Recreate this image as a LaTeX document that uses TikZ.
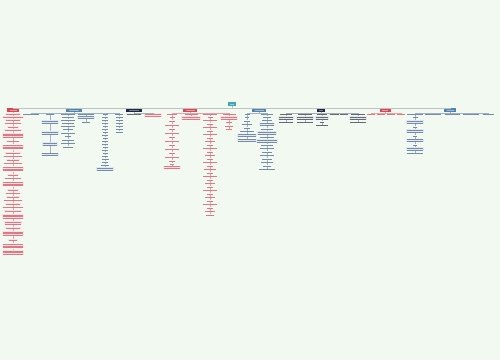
\documentclass[tikz,border=0pt]{standalone}
\definecolor{bgc}{RGB}{241,249,240}
\definecolor{rootc}{RGB}{62,168,175}
\definecolor{mred}{RGB}{214,72,84}
\definecolor{mblue}{RGB}{82,132,172}
\definecolor{mdark}{RGB}{28,40,64}
\definecolor{redtx}{RGB}{222,120,130}
\definecolor{bluetx}{RGB}{120,138,165}
\definecolor{darktx}{RGB}{100,106,116}
\definecolor{pinkfill}{RGB}{251,224,230}
\definecolor{bluefill}{RGB}{224,232,242}
\definecolor{greyfill}{RGB}{228,232,234}
\definecolor{redln}{RGB}{236,160,170}
\definecolor{blueln}{RGB}{160,178,198}
\definecolor{greyln}{RGB}{168,175,180}
\tikzset{
 base/.style={inner xsep=0.7pt, inner ysep=0.55pt, align=center, font=\fontsize{2}{1.6}\selectfont},
 rtx/.style={base, text=redtx},
 btx/.style={base, text=bluetx},
 dtx/.style={base, text=darktx},
 pkbox/.style={fill=pinkfill},
 blbox/.style={fill=bluefill},
 gybox/.style={fill=greyfill},
 rline/.style={draw=redln, line width=0.3pt},
 bline/.style={draw=blueln, line width=0.3pt},
 gline/.style={draw=greyln, line width=0.3pt},
 mline/.style={draw=greyln!75, line width=0.9pt},
 mainst/.style={base, inner xsep=1pt, inner ysep=1pt, minimum height=3.2pt},
 mainred/.style={mainst, fill=mred, text=white!45!mred},
 mainblue/.style={mainst, fill=mblue, text=white!45!mblue},
 maindark/.style={mainst, fill=mdark, text=white!40!mdark},
 rootst/.style={base, fill=rootc, text=white!45!rootc, minimum width=8pt, minimum height=4pt}
}
\newcommand\tlines[2]{\ifcase#2\or\rule{#1pt}{0.45pt}\or\rule{#1pt}{0.45pt}\\\rule{#1pt}{0.45pt}\or\rule{#1pt}{0.45pt}\\\rule{#1pt}{0.45pt}\\\rule{#1pt}{0.45pt}\fi}
\newcommand\mkcol[7]{%
 \foreach \yy/\ww/\nl [count=\i, remember=\i as \li (initially 0)] in {#7}{%
   \edef\mknode{\noexpand\node[#3\ifnum\nl>1 ,#4\fi] (#1-\i) at (#2,\yy) {\noexpand\tlines{\ww}{\nl}};}%
   \mknode
   \ifnum\i=1 \draw[#5] (#6) -- (#1-1);\else\draw[#5] (#1-\li) -- (#1-\i);\fi
 }}
\begin{document}
\begin{tikzpicture}[x=1pt,y=-1pt]
\fill[bgc] (0,0) rectangle (500,360);
\useasboundingbox (0,0) rectangle (500,360);
% root and main branches
\node[rootst] (root) at (232,104) {\tlines{4}{1}};
\node[mainred,  minimum width=12pt] (m1) at (13,110)  {\tlines{7}{1}};
\node[mainblue, minimum width=16pt] (m2) at (74,110)  {\tlines{10}{1}};
\node[maindark, minimum width=16pt] (m3) at (134,110) {\tlines{10}{1}};
\node[mainred,  minimum width=14pt] (m4) at (190,110) {\tlines{9}{1}};
\node[mainblue, minimum width=14pt] (m5) at (259,110) {\tlines{9}{1}};
\node[maindark, minimum width=8pt]  (m6) at (321,110) {\tlines{4}{1}};
\node[mainred,  minimum width=11pt] (m7) at (385,110) {\tlines{6}{1}};
\node[mainblue, minimum width=12pt] (m8) at (450,110) {\tlines{7}{1}};
\foreach \k in {1,...,8} \draw[mline] (root.south) -- ++(0,2.3) -| (m\k.north);
% branch 1
\mkcol{b1}{13}{rtx,pkbox}{pkbox}{rline}{m1}{114/14/1, 117/20/1, 120/14/1, 123.5/16/1, 127/10/1, 130/16/1, 135.5/20/3, 141.5/12/1, 147/20/3, 153/14/1, 156.5/18/1, 160/12/1, 163.5/18/1, 169/20/3, 175/10/1, 178.5/16/1, 184/20/3, 190/10/1, 193.5/14/1, 197/12/1, 200.5/18/1, 204/14/1, 207.5/20/1, 211/16/1, 216.5/20/3, 223/16/2, 228/14/1, 233.5/20/3, 240/8/1, 246/20/3, 252.5/20/3}
% branch 2
\node[btx] (h2a) at (31,114) {\tlines{16}{1}};
\node[btx] (h2b) at (50,114) {\tlines{8}{1}};
\node[btx] (h2c) at (68,114) {\tlines{14}{1}};
\node[btx] (h2d) at (86,114) {\tlines{16}{1}};
\node[btx] (h2e) at (105,114) {\tlines{5}{1}};
\node[btx] (h2f) at (119,114) {\tlines{8}{1}};
\foreach \h in {a,b,c,d,e,f} \draw[bline] (m2.south) -- ++(0,1) -| (h2\h.north);
\mkcol{c2b}{50}{btx}{blbox}{bline}{h2b}{122/16/2, 133/16/2, 144/14/2, 154.5/16/2}
\mkcol{c2c}{68}{btx}{blbox}{bline}{h2c}{117/12/1, 120/14/1, 123/12/1, 126/14/1, 129.5/10/1, 133/14/1, 136.5/6/1, 140/12/1, 143.5/14/1, 147/10/1}
\mkcol{c2d}{86}{btx}{blbox}{bline}{h2d}{117.5/16/2, 122.5/8/1}
\mkcol{c2e}{105}{btx}{blbox}{bline}{h2e}{117/6/1,120/6/1,123/6/1,126/5/1,129/6/1,132/5/1,135/6/1,138/5/1,141/6/1,144/6/1,147/5/1,150/6/1,153/5/1,156/6/1,159/7/1,162/6/1,165/8/1,169/16/2}
\mkcol{c2f}{119}{btx}{blbox}{bline}{h2f}{117/7/1,120/7/1,123/7/1,126/7/1,129/7/1,132/7/1}
% branch 3
\node[dtx,gybox] (h3a) at (134,114) {\tlines{14}{1}};
\node[rtx,pkbox] (h3b) at (153,115) {\tlines{16}{2}};
\foreach \h in {a,b} \draw[gline] (m3.south) -- ++(0,1) -| (h3\h.north);
% branch 4
\node[rtx] (h4a) at (172,114) {\tlines{10}{1}};
\node[rtx] (h4b) at (191,114) {\tlines{13}{1}};
\node[rtx] (h4c) at (210,114) {\tlines{14}{1}};
\node[rtx] (h4d) at (229,114) {\tlines{13}{1}};
\foreach \h in {a,b,c,d} \draw[rline] (m4.south) -- ++(0,1) -| (h4\h.north);
\mkcol{c4a}{172}{rtx}{pkbox}{rline}{h4a}{117.5/5/1, 121/6/1, 125/14/1, 129/6/1, 133/14/1, 137/6/1, 141/14/1, 145/6/1, 149/14/1, 153/6/1, 157/14/1, 161/6/1, 164/4/1, 167.5/16/2}
\mkcol{c4b}{191}{rtx}{pkbox}{rline}{h4b}{118/18/2}
\mkcol{c4c}{210}{rtx}{pkbox}{rline}{h4c}{117/5/1,120.5/14/1,124/6/1,127.5/14/1,131/6/1,134.5/14/1,138/6/1,141.5/10/1,145/6/1,148.5/14/1,152/6/1,155.5/10/1,159/6/1,162.5/14/1,166/6/1,169.5/12/1,173/6/1,176.5/14/1,180/6/1,183.5/10/1,187/6/1,190.5/14/1,194/6/1,197.5/10/1,201/6/1,204.5/14/1,208/6/1,211.5/10/1,215/8/1}
\mkcol{c4d}{229}{rtx}{pkbox}{rline}{h4d}{118/16/2, 122.5/6/1, 126/8/1, 129.5/6/1}
% branch 5
\node[btx] (h5a) at (247,114) {\tlines{5}{1}};
\node[btx] (h5b) at (267,114) {\tlines{12}{1}};
\foreach \h in {a,b} \draw[bline] (m5.south) -- ++(0,1) -| (h5\h.north);
\mkcol{c5a}{247}{btx}{blbox}{bline}{h5a}{117.5/4/1, 121/6/1, 124.5/10/1, 128/6/1, 131.5/14/1, 135.5/18/2, 140.5/18/2}
\mkcol{c5b}{267}{btx}{blbox}{bline}{h5b}{117/8/1, 120.5/10/1, 124.5/14/2, 129/12/1, 133/18/2, 137.5/14/1, 141/20/2, 145/12/1, 148.5/14/1, 152/10/1, 155.5/14/1, 159/10/1, 162.5/12/1, 166/8/1, 169.5/16/1}
% branch 6
\node[dtx] (h6a) at (286,114) {\tlines{12}{1}};
\node[dtx] (h6b) at (305,114) {\tlines{14}{1}};
\node[dtx] (h6c) at (322,114) {\tlines{10}{1}};
\node[dtx] (h6d) at (334,114) {\tlines{9}{1}};
\node[dtx] (h6e) at (344,114) {\tlines{8}{1}};
\node[dtx] (h6f) at (358,114) {\tlines{14}{1}};
\foreach \h in {a,b,c,d,e,f} \draw[gline] (m6.south) -- ++(0,1) -| (h6\h.north);
\mkcol{c6a}{286}{dtx}{gybox}{gline}{h6a}{118/14/2, 122.5/14/1}
\mkcol{c6b}{305}{dtx}{gybox}{gline}{h6b}{118/16/2, 122.5/16/1}
\mkcol{c6c}{322}{dtx}{gybox}{gline}{h6c}{118/12/2, 122/4/1, 125.5/12/1}
\mkcol{c6f}{358}{dtx}{gybox}{gline}{h6f}{118/16/2, 122.5/16/1}
% branch 7
\node[rtx] (h7a) at (371,114) {\tlines{8}{1}};
\node[rtx] (h7b) at (381,114) {\tlines{8}{1}};
\node[rtx] (h7c) at (391,114) {\tlines{8}{1}};
\node[rtx] (h7d) at (401,114) {\tlines{8}{1}};
\foreach \h in {a,b,c,d} \draw[rline] (m7.south) -- ++(0,1) -| (h7\h.north);
% branch 8
\node[btx] (h8a) at (415,114) {\tlines{16}{1}};
\node[btx] (h8b) at (433,114) {\tlines{16}{1}};
\node[btx] (h8c) at (452,114) {\tlines{15}{1}};
\node[btx] (h8d) at (471,114) {\tlines{16}{1}};
\node[btx] (h8e) at (488,114) {\tlines{11}{1}};
\foreach \h in {a,b,c,d,e} \draw[bline] (m8.south) -- ++(0,1) -| (h8\h.north);
\mkcol{c8a}{415}{btx}{blbox}{bline}{h8a}{117.5/5/1, 122/16/2, 127/4/1, 131/16/2, 136/4/1, 140.5/16/2, 145/4/1, 149/16/2, 153.5/16/1}
\end{tikzpicture}
\end{document}
